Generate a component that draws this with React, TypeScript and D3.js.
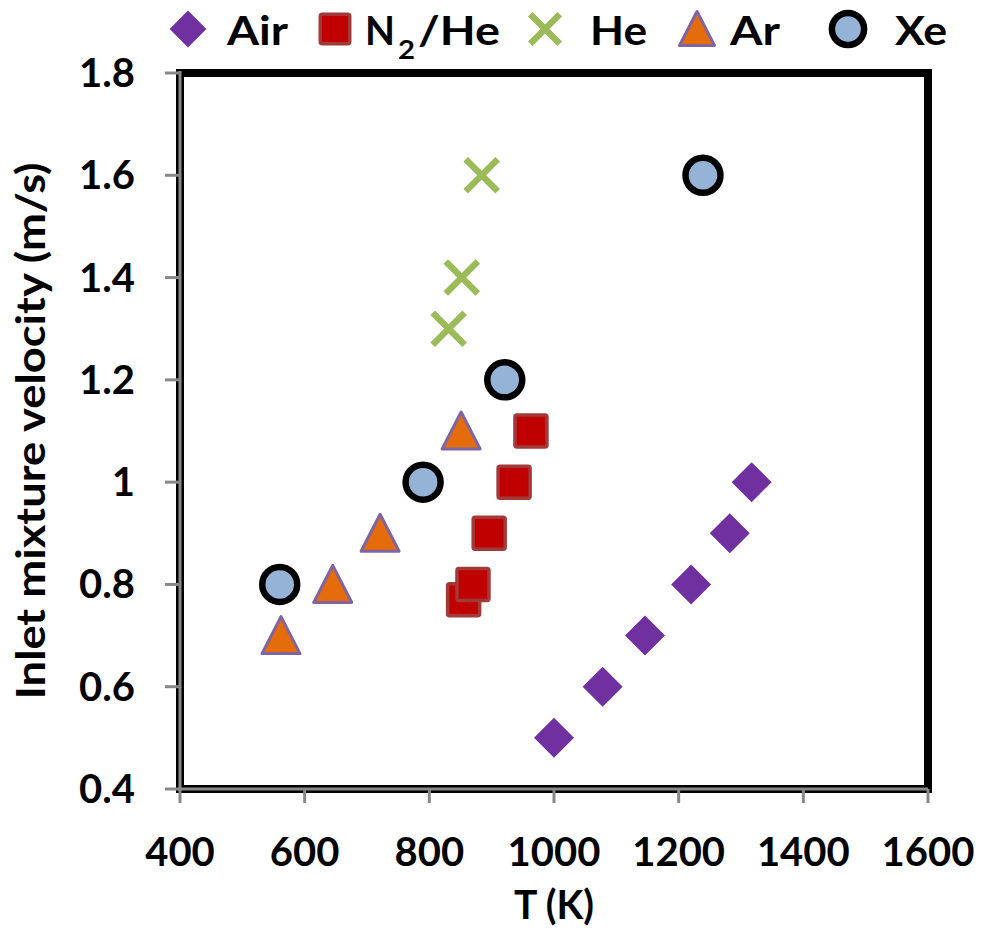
import React from "react";
import * as d3 from "d3";

const xTicks = [400, 600, 800, 1000, 1200, 1400, 1600];
const yTicks = [0.4, 0.6, 0.8, 1, 1.2, 1.4, 1.6, 1.8];

const airT = [1000, 1078, 1146, 1220, 1282, 1317];
const airV = [0.5, 0.6, 0.7, 0.8, 0.9, 1.0];

const n2heT = [855, 870, 896, 936, 963];
const n2heV = [0.77, 0.8, 0.9, 1.0, 1.1];

const heT = [884, 852, 831];
const heV = [1.6, 1.4, 1.3];

const arT = [562, 645, 721, 851];
const arV = [0.7, 0.8, 0.9, 1.1];

const xeT = [560, 790, 921, 1239];
const xeV = [0.8, 1.0, 1.2, 1.6];

const seriesNames = ["Air", "N2/He", "He", "Ar", "Xe"];

const FONT = "Lato, 'Open Sans', sans-serif";

const W = 982;
const H = 950;
const L = 180, R = 928, T = 73, B = 789;

const x = d3.scaleLinear().domain([400, 1600]).range([L, R]);
const y = d3.scaleLinear().domain([0.4, 1.8]).range([B, T]);

const C = {
  air: "#7030A0",
  sqFill: "#C00000",
  sqStroke: "#A33A3A",
  he: "#9BBB59",
  arFill: "#E46C0A",
  arStroke: "#8064A2",
  xeFill: "#95B3D7",
};

function Marker({ kind, cx, cy, s = 1 }: { kind: string; cx: number; cy: number; s?: number }) {
  if (kind === "Air") {
    const h = 20 * s;
    return (
      <path
        d={`M${cx},${cy - h}L${cx + h},${cy}L${cx},${cy + h}L${cx - h},${cy}Z`}
        fill={C.air}
      />
    );
  }
  if (kind === "N2/He") {
    const h = 16 * s;
    return (
      <rect x={cx - h} y={cy - h} width={2 * h} height={2 * h} rx={2}
        fill={C.sqFill} stroke={C.sqStroke} strokeWidth={3.5} />
    );
  }
  if (kind === "He") {
    const h = 16 * s;
    return (
      <path d={`M${cx - h},${cy - h}L${cx + h},${cy + h}M${cx - h},${cy + h}L${cx + h},${cy - h}`}
        stroke={C.he} strokeWidth={6.5} fill="none" />
    );
  }
  if (kind === "Ar") {
    const h = 19 * s;
    return (
      <path d={`M${cx},${cy - h}L${cx + h},${cy + h - 1}L${cx - h},${cy + h - 1}Z`}
        fill={C.arFill} stroke={C.arStroke} strokeWidth={3} strokeLinejoin="round" />
    );
  }
  return <circle cx={cx} cy={cy} r={17.5 * s} fill={C.xeFill} stroke="#000" strokeWidth={6.5} />;
}

export default function App() {
  const series = [
    { name: "Air", t: airT, v: airV },
    { name: "N2/He", t: n2heT, v: n2heV },
    { name: "He", t: heT, v: heV },
    { name: "Ar", t: arT, v: arV },
    { name: "Xe", t: xeT, v: xeV },
  ];
  const legendMarkX = [188, 335, 545, 697, 848];
  const legendTextX = [227, 365, 590, 730, 895];
  const legendTextW = [61, 0, 57, 50, 52];
  const legendMarkY = 29;
  const legendBase = 45;
  const fs = 40;

  return (
    <svg width={W} height={H} style={{ position: "absolute", left: 0, top: 0, background: "#fff" }}
      fontFamily={FONT} fontWeight="bold">
      <rect x={0} y={0} width={W} height={H} fill="#fff" />
      {/* plot frame */}
      <rect x={L} y={T} width={R - L} height={B - T} fill="none" stroke="#000" strokeWidth={8} />
      {/* axis lines */}
      <line x1={L} x2={L} y1={T - 2} y2={B + 2} stroke="#888" strokeWidth={3} />
      <line x1={L - 2} x2={R} y1={B} y2={B} stroke="#888" strokeWidth={3} />
      {/* x ticks */}
      {xTicks.map((t) => (
        <g key={"x" + t}>
          <line x1={x(t)} x2={x(t)} y1={B} y2={B + 14} stroke="#888" strokeWidth={3} />
          <text x={x(t)} y={866} textAnchor="middle" fontSize={fs} fill="#000">{t}</text>
        </g>
      ))}
      {/* y ticks */}
      {yTicks.map((t) => (
        <g key={"y" + t}>
          <line x1={L - 15} x2={L} y1={y(t)} y2={y(t)} stroke="#888" strokeWidth={3} />
          <text x={135} y={y(t) + 14} textAnchor="end" fontSize={fs} fill="#000">{d3.format("~g")(t)}</text>
        </g>
      ))}
      {/* axis titles */}
      <text x={(L + R) / 2} y={919} textAnchor="middle" fontSize={fs} fill="#000"
        textLength={80} lengthAdjust="spacingAndGlyphs">T (K)</text>
      <text transform={`translate(45,${(T + B) / 2}) rotate(-90)`} textAnchor="middle" fontSize={fs} fill="#000"
        textLength={537} lengthAdjust="spacingAndGlyphs">
        Inlet mixture velocity (m/s)
      </text>
      {/* data */}
      {series.map((s) => (
        <g key={s.name}>
          {s.t.map((tv, i) => (
            <Marker key={i} kind={s.name} cx={x(tv)} cy={y(s.v[i])} />
          ))}
        </g>
      ))}
      {/* legend */}
      {seriesNames.map((n, i) => (
        <g key={"lg" + n}>
          <Marker kind={n} cx={legendMarkX[i]} cy={legendMarkY} s={0.92} />
          {n === "N2/He" ? (
            <g>
              <text x={legendTextX[i]} y={legendBase} fontSize={fs} fill="#000"
                textLength={30} lengthAdjust="spacingAndGlyphs">N</text>
              <text x={legendTextX[i] + 33} y={legendBase + 14} fontSize={27} fill="#000"
                textLength={17} lengthAdjust="spacingAndGlyphs">2</text>
              <text x={legendTextX[i] + 53} y={legendBase} fontSize={fs} fill="#000"
                textLength={82} lengthAdjust="spacingAndGlyphs">/He</text>
            </g>
          ) : (
            <text x={legendTextX[i]} y={legendBase} fontSize={fs} fill="#000"
              textLength={legendTextW[i]} lengthAdjust="spacingAndGlyphs">{n}</text>
          )}
        </g>
      ))}
    </svg>
  );
}
